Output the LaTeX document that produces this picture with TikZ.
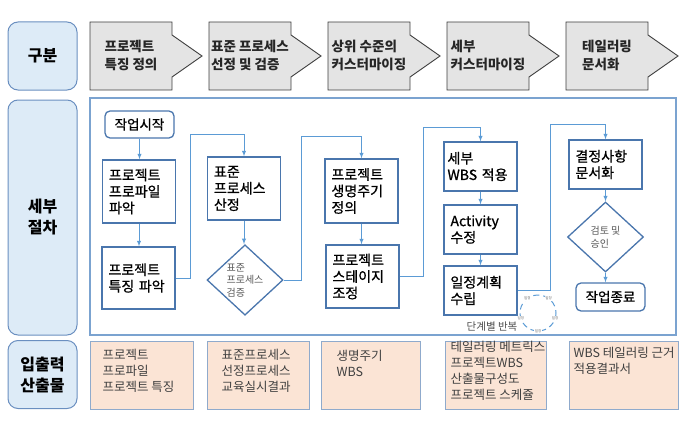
\documentclass[tikz,border=0pt]{standalone}
\usepackage{fontspec}
\setmainfont{Noto Sans CJK KR}
\newfontfamily\stepfont[FakeBold=0.9]{Noto Sans CJK KR}
\usetikzlibrary{arrows,shapes.geometric}

\definecolor{lblfill}{HTML}{DDEBF7}
\definecolor{lblline}{HTML}{6A8FC0}
\definecolor{phasefill}{HTML}{E4E4E4}
\definecolor{phaseline}{HTML}{3F3F3F}
\definecolor{frameline}{HTML}{7BA3D0}
\definecolor{stepline}{HTML}{4A76AD}
\definecolor{flowline}{HTML}{5B9BD5}
\definecolor{outfill}{HTML}{FBE4D5}
\definecolor{outline}{HTML}{8FAACC}

\tikzset{
  lbl/.style={draw=lblline, fill=lblfill, line width=1pt, rounded corners=10pt,
    minimum width=69pt, align=center, font=\bfseries\fontsize{16}{21}\selectfont},
  phase/.style={draw=phaseline, fill=phasefill, line width=0.9pt},
  phasetext/.style={align=left, text=black!85, font=\bfseries\fontsize{13.5}{18}\selectfont},
  frame/.style={draw=frameline, line width=1.1pt},
  stepbox/.style={draw=stepline, fill=white, line width=1.3pt, align=left,
    text width=60pt, inner xsep=6.5pt, inner ysep=0pt, minimum width=73pt,
    font=\stepfont\fontsize{14}{16.5}\selectfont},
  startend/.style={draw=stepline, fill=white, line width=1.3pt, rounded corners=5pt,
    minimum width=69pt, minimum height=27pt, font=\stepfont\fontsize{13.5}{16.5}\selectfont},
  check/.style={diamond, draw=stepline, fill=white, line width=1.3pt, inner sep=0pt,
    minimum width=76pt, minimum height=69pt, align=left, text=black!65,
    font=\fontsize{10}{12.5}\selectfont},
  flow/.style={draw=flowline, line width=0.9pt, -latex},
  cycle/.style={draw=flowline, line width=1pt, dash pattern=on 6pt off 4pt},
  cyctext/.style={fill=white, inner sep=0.5pt, text=black!60, font=\fontsize{3.5}{4}\selectfont},
  outbox/.style={draw=outline, fill=outfill, line width=1pt, minimum height=68pt},
  outtext/.style={anchor=west, align=left, text=black!75, font=\fontsize{12.5}{16}\selectfont},
}

\begin{document}
\begin{tikzpicture}[x=1pt,y=-1pt]

\useasboundingbox (0,0) rectangle (682,420);

% left column
\node[lbl, minimum height=68pt]  (cat1) at (42.5,56)    {구분};
\node[lbl, minimum height=235pt] (cat2) at (42.5,217.5) {세부\\절차};
\node[lbl, minimum height=68pt]  (cat3) at (42.5,374.5) {입출력\\산출물};

% phases
\foreach \txt [count=\n] in {{프로젝트\\특징 정의}, {표준 프로세스\\선정 및 검증},
    {상위 수준의\\커스터마이징}, {세부\\커스터마이징}, {테일러링\\문서화}} {
  \pgfmathsetmacro{\xl}{90+119*(\n-1)}
  \draw[phase] (\xl,22) -- ++(82,0) -- ++(0,13) -- ++(30,21) -- ++(-30,21)
    -- ++(0,13) -- ++(-82,0) -- cycle;
  \node[phasetext] (phase\n) at (\xl+41,55) {\txt};
}

% detailed procedure
\node[frame, minimum width=586pt, minimum height=237pt] (procframe) at (383,216.5) {};

\node[startend] (start) at (139.5,124.5) {작업시작};
\node[stepbox, minimum height=63pt] (profile) at (139,191.5) {프로젝트\\프로파일\\파악};
\node[stepbox, minimum height=62pt] (feature) at (138.5,278) {프로젝트\\특징 파악};

\node[stepbox, minimum height=63pt] (select) at (244,188.5) {표준\\프로세스\\산정};
\node[check] (verify) at (245,280) {표준\\프로세스\\검증};

\node[stepbox, minimum height=64pt] (life)  at (361.5,191)  {프로젝트\\생명주기\\정의};
\node[stepbox, minimum height=63pt] (stage) at (362.5,276.5) {프로젝트\\스테이지\\조정};

\node[stepbox, minimum height=49pt, text width=66pt, inner xsep=3.5pt] (wbs) at (480.5,166.5) {세부\\WBS 적용};
\node[stepbox, minimum height=49pt] (act)  at (480.5,229.5) {Activity\\수정};
\node[stepbox, minimum height=49pt] (plan) at (480.5,290.5) {일정계획\\수립};

\node[stepbox, minimum height=49pt] (doc) at (605.5,164.5) {결정사항\\문서화};
\node[check, minimum height=70pt] (approve) at (605.5,237) {검토 및\\승인};
\node[startend, minimum height=28pt] (finish) at (610.5,297) {작업종료};

\draw[flow] (start) -- (start |- profile.north);
\draw[flow] (profile) -- (profile |- feature.north);
\draw[flow] (feature.east) -- ++(15,0) |- ([yshift=22pt]select.north) -- (select.north);
\draw[flow] (select) -- (select |- verify.north);
\draw[flow] (verify.east) -- ++(18,0) |- ([yshift=22pt]life.north) -- (life.north);
\draw[flow] (life) -- (life |- stage.north);
\draw[flow] (stage.east) -- ++(24,0) |- ([yshift=14pt]wbs.north) -- (wbs.north);
\draw[flow] (wbs) -- (act);
\draw[flow] (act) -- (plan);
\draw[flow] (plan.east) -- ++(33,0) |- ([yshift=15pt]doc.north) -- (doc.north);
\draw[flow] (doc) -- (approve);
\draw[flow] (approve) -- (approve |- finish.north);

% repeat cycle
\coordinate (cycc) at (538,313);
\draw[cycle] (cycc) circle (18);
\foreach \a [count=\n] in {-126,-54,162,18,90}
  \node[cyctext] (cyc\n) at ([shift={(\a:18)}]cycc) {일정};
\node[text=black!70, font=\fontsize{10.5}{12}\selectfont] (repeat) at (492,327) {단계별 반복};

% inputs and outputs
\foreach \xc/\w/\pad/\yc/\txt [count=\n] in {
    141.5/103/9/371/{프로젝트\\프로파일\\프로젝트 특징},
    258/102/11/371/{표준프로세스\\선정프로세스\\교육실시결과},
    370.5/99/12/363/{생명주기\\WBS},
    495.5/101/2/371/{테일러링 메트릭스\\프로젝트WBS\\산출물구성도\\프로젝트 스케쥴},
    623.5/109/1/361/{WBS 테일러링 근거\\적용결과서}} {
  \node[outbox, minimum width=\w pt] (out\n) at (\xc,375) {};
  \node[outtext] (outtext\n) at (\xc-\w/2+\pad,\yc) {\txt};
}

\end{tikzpicture}
\end{document}
